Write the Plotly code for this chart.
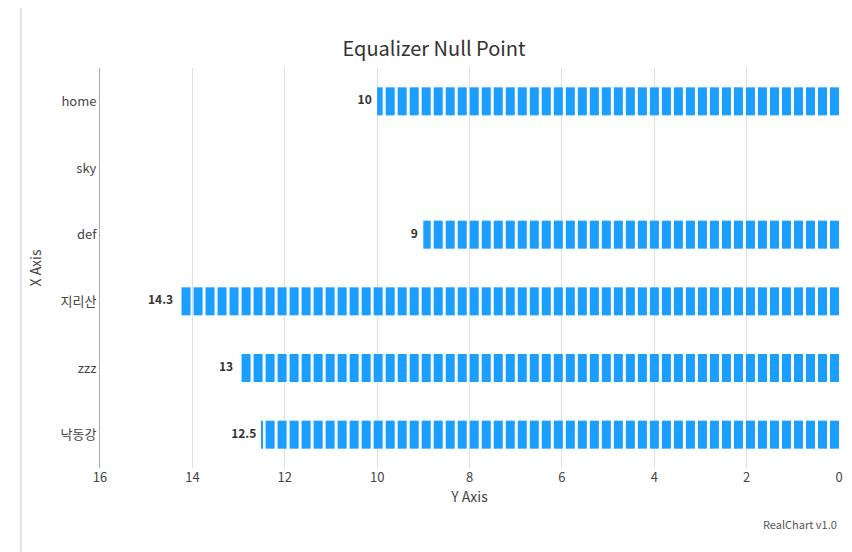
import plotly.graph_objects as go

categories = ["home", "sky", "def", "지리산", "zzz", "낙동강"]
values = [10, None, 9, 14.3, 13, 12.5]

step = 0.26
seg = 0.195

ys, xs, bases = [], [], []
for c, v in zip(categories, values):
    if v is None:
        continue
    start = 0.0
    while start < v - 1e-9:
        ys.append(c)
        xs.append(min(seg, v - start))
        bases.append(start)
        start += step

fig = go.Figure()
fig.add_trace(go.Bar(y=ys, x=xs, base=bases, orientation="h", width=0.42,
                     marker=dict(color="#1a9eff", line=dict(width=0)),
                     hoverinfo="skip", showlegend=False))
lab_c = [c for c, v in zip(categories, values) if v is not None]
lab_v = [v for v in values if v is not None]
fig.add_trace(go.Scatter(y=lab_c, x=lab_v, mode="text",
                         text=[f"<b>{v:g}</b>  " for v in lab_v],
                         textposition="middle left",
                         textfont=dict(size=12, color="#333"),
                         showlegend=False, hoverinfo="skip"))
fig.update_layout(
    width=852, height=552, barmode="overlay",
    paper_bgcolor="white", plot_bgcolor="white",
    font=dict(family="Noto Sans CJK KR, Noto Sans", color="#444"),
    title=dict(text="Equalizer Null Point", x=0.5, y=0.938, xanchor="center",
               font=dict(size=20, color="#333")),
    margin=dict(l=92, r=21, t=60, b=92, autoexpand=False),
    xaxis=dict(range=[16, 0], dtick=2, showgrid=True, gridcolor="#e0e0e0",
               zeroline=False, automargin=False,
               title=dict(text="Y Axis", font=dict(size=14), standoff=6),
               tickfont=dict(size=13)),
    yaxis=dict(categoryorder="array", categoryarray=categories[::-1],
               type="category", showline=True, linecolor="#aaa", linewidth=1,
               ticks="", automargin=False,
               title=dict(text="X Axis", font=dict(size=14)),
               tickfont=dict(size=13), showgrid=False),
    shapes=[dict(type="rect", xref="paper", yref="paper", x0=-0.107, x1=1.023,
                 y0=-0.227, y1=1.155, line=dict(color="#ccc", width=1))],
    annotations=[dict(text="RealChart v1.0", xref="paper", yref="paper", x=1.0, y=-0.165,
                      xanchor="right", showarrow=False, font=dict(size=11, color="#555"))],
)
fig.write_html("out.html")
